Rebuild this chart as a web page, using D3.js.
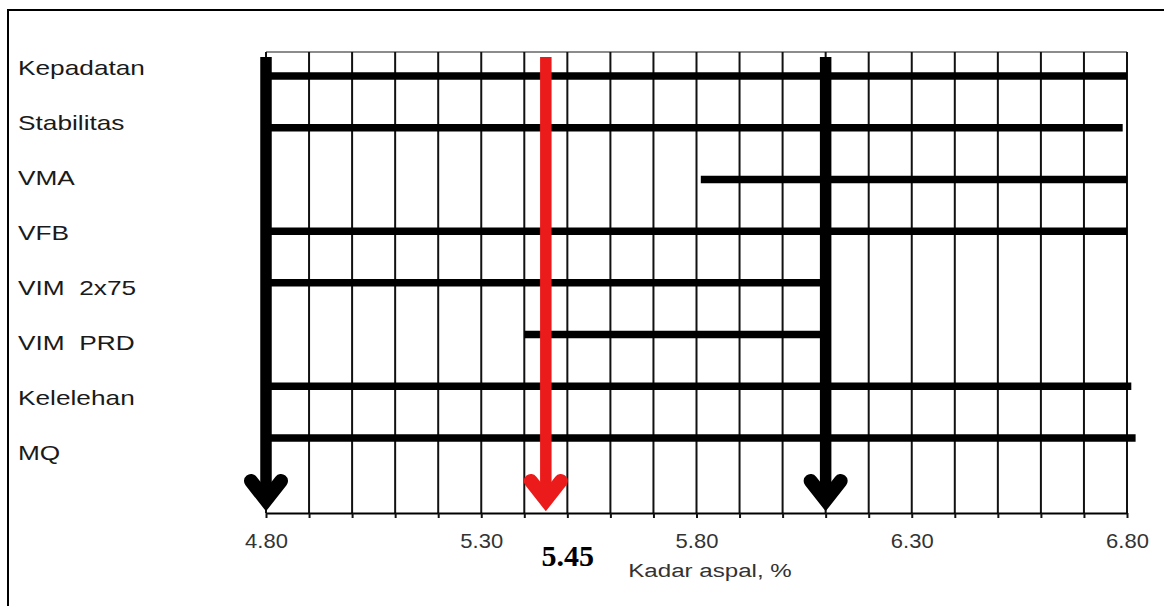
<!DOCTYPE html>
<html lang="id">
<head>
    <meta charset="UTF-8">
    <title>Kadar aspal optimum</title>
    <script src="https://d3js.org/d3.v7.min.js"></script>
    <style>
        body { margin: 0; background: #fff; }
        text { white-space: pre; }
    </style>
</head>
<body>
    <svg id="chart" width="1164" height="606"></svg>
    <script>
        // criteria rows and the asphalt-content range that satisfies each one
        const criteria = ["Kepadatan", "Stabilitas", "VMA", "VFB", "VIM  2x75", "VIM  PRD", "Kelelehan", "MQ"];
        const rangeStart = [4.80, 4.80, 5.81, 4.80, 4.80, 5.40, 4.80, 4.79];
        const rangeEnd = [6.80, 6.79, 6.80, 6.80, 6.10, 6.10, 6.81, 6.82];
        const limitMarks = [4.80, 6.10];   // black arrows
        const optimum = 5.45;              // red arrow
        const tickLabels = [4.80, 5.30, 5.80, 6.30, 6.80];
        const xDomain = [4.80, 6.80];
        const xTitle = "Kadar aspal, %";

        const sans = "'Liberation Sans', Arial, sans-serif";
        const serif = "'Liberation Serif', 'Times New Roman', serif";

        const svg = d3.select("#chart");
        const plot = {left: 266, right: 1127, top: 52, bottom: 513};

        const x = d3.scaleLinear().domain(xDomain).range([plot.left, plot.right]);
        const yBar = d3.scalePoint().domain(criteria).range([76, 438]);
        const yLabel = d3.scalePoint().domain(criteria).range([68, 453]);
        const gridVals = x.ticks(20);

        // outer frame (only top and left edges fall inside the picture)
        svg.append("path")
            .attr("d", "M8,606 L8,10 L1164,10")
            .attr("fill", "none")
            .attr("stroke", "#000")
            .attr("stroke-width", 2);

        // plot top border
        svg.append("line")
            .attr("x1", plot.left).attr("x2", plot.right)
            .attr("y1", plot.top).attr("y2", plot.top)
            .attr("stroke", "#666").attr("stroke-width", 1.5);

        // vertical grid
        svg.append("g").selectAll("line")
            .data(gridVals)
            .enter().append("line")
                .attr("x1", d => x(d)).attr("x2", d => x(d))
                .attr("y1", plot.top).attr("y2", plot.bottom)
                .attr("stroke", "#111")
                .attr("stroke-width", 2);

        // range bars
        const rows = criteria.map((c, i) => ({name: c, start: rangeStart[i], end: rangeEnd[i]}));
        svg.append("g").selectAll("line")
            .data(rows)
            .enter().append("line")
                .attr("x1", d => x(d.start)).attr("x2", d => x(d.end))
                .attr("y1", d => yBar(d.name)).attr("y2", d => yBar(d.name))
                .attr("stroke", "#000")
                .attr("stroke-width", 7.5);

        // row labels
        svg.append("g").selectAll("text")
            .data(criteria)
            .enter().append("text")
                .attr("transform", d => `translate(18,${yLabel(d)}) scale(1.25,1)`)
                .attr("dy", "0.35em")
                .style("font-family", sans)
                .style("font-size", "21px")
                .attr("fill", "#1a1a1a")
                .text(d => d);

        // bottom axis
        const axis = svg.append("g")
            .attr("transform", `translate(0,${plot.bottom})`)
            .call(d3.axisBottom(x)
                .tickValues(gridVals)
                .tickSize(5)
                .tickSizeOuter(0)
                .tickFormat(d => tickLabels.some(t => Math.abs(t - d) < 1e-6) ? d.toFixed(2) : ""));
        axis.select(".domain").attr("stroke", "#000").attr("stroke-width", 2);
        axis.selectAll(".tick line").attr("stroke", "#111").attr("stroke-width", 2);
        axis.selectAll(".tick text")
            .attr("dy", null)
            .attr("y", 35)
            .attr("transform", "scale(1.1,1)")
            .style("font-family", sans)
            .style("font-size", "20px")
            .attr("fill", "#333");

        svg.append("text")
            .attr("transform", "translate(710,577) scale(1.27,1)")
            .attr("text-anchor", "middle")
            .style("font-family", sans)
            .style("font-size", "19px")
            .attr("fill", "#333")
            .text(xTitle);

        // arrows
        function arrow(xv, color) {
            const cx = x(xv);
            const g = svg.append("g").attr("fill", "none").attr("stroke", color);
            g.append("line")
                .attr("x1", cx).attr("x2", cx)
                .attr("y1", 57).attr("y2", 500)
                .attr("stroke-width", 11.5);
            g.append("path")
                .attr("d", `M${cx - 15},481 L${cx},500 L${cx + 15},481`)
                .attr("stroke-width", 14)
                .attr("stroke-linecap", "round")
                .attr("stroke-linejoin", "miter")
                .attr("stroke-miterlimit", 10);
        }
        limitMarks.forEach(v => arrow(v, "#000"));
        arrow(optimum, "#ec1b1b");

        svg.append("text")
            .attr("x", x(optimum) + 22)
            .attr("y", 566)
            .attr("text-anchor", "middle")
            .style("font-family", serif)
            .style("font-weight", "bold")
            .style("font-size", "30px")
            .attr("fill", "#000")
            .text(optimum.toFixed(2));
    </script>
</body>
</html>
